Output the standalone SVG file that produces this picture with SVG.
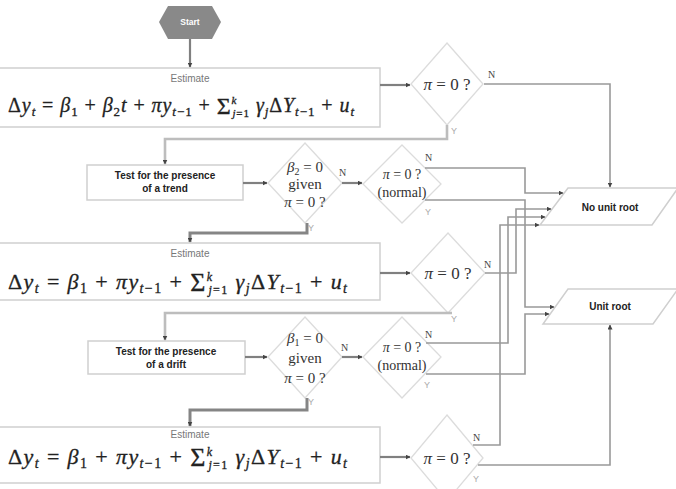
<svg xmlns="http://www.w3.org/2000/svg" width="676" height="489" viewBox="0 0 676 489">
<style>
.box{fill:#fff;stroke:#cfcfcf;stroke-width:1.5}
.dia{fill:#fff;stroke:#dcdcdc;stroke-width:1.3}
.est{font-family:"Liberation Sans",Arial,sans-serif;font-size:10px;fill:#777;text-anchor:middle}
.m{font-family:"Liberation Serif","DejaVu Serif",serif;fill:#222;stroke:#222;stroke-width:0.3}
.i{font-style:italic}
.q{font-family:"Liberation Serif","DejaVu Serif",serif;fill:#333;text-anchor:middle}
.bt{font-family:"Liberation Sans",Arial,sans-serif;font-weight:bold;font-size:10px;fill:#222;text-anchor:middle}
.lbN{font-family:"Liberation Serif",serif;font-size:10px;fill:#444}
.lbY{font-family:"Liberation Sans",sans-serif;font-size:9px;fill:#aaa}
.c{fill:none;stroke:#999;stroke-width:1.6}
.cd{fill:none;stroke:#808080;stroke-width:2.2}
.cl{fill:none;stroke:#bdbdbd;stroke-width:2.6}
.ct{fill:none;stroke:#858585;stroke-width:3}
</style>
<defs>
<marker id="ah" viewBox="0 0 10 10" refX="9" refY="5" markerWidth="5" markerHeight="5" markerUnits="userSpaceOnUse" orient="auto">
<path d="M0,0 L10,5 L0,10 z" fill="#444"/>
</marker>
</defs>

<g id="start">
<polygon points="159,22 168,6 212,6 221,22 212,39 168,39" fill="#898989"/>
<text x="190" y="25" font-family="Liberation Sans,Arial,sans-serif" font-size="8.5" font-weight="bold" fill="#fff" text-anchor="middle">Start</text>
</g>

<g id="estimate1">
<rect class="box" x="-2" y="68" width="382" height="59"/>
<text class="est" x="190" y="82">Estimate</text>
<text class="m" x="8" y="112" font-size="20" textLength="346" lengthAdjust="spacing">Δ<tspan class="i">y</tspan><tspan class="i" font-size="13" dy="4">t</tspan><tspan dy="-4"> = </tspan><tspan class="i">β</tspan><tspan font-size="13" dy="4">1</tspan><tspan dy="-4"> + </tspan><tspan class="i">β</tspan><tspan font-size="13" dy="4">2</tspan><tspan class="i" dy="-4">t</tspan> + <tspan class="i">πy</tspan><tspan class="i" font-size="13" dy="4">t</tspan><tspan font-size="13">−1</tspan><tspan dy="-4"> + </tspan><tspan font-size="24" dy="2">Σ</tspan><tspan class="i" font-size="11" dy="-10">k</tspan><tspan class="i" font-size="11" dx="-5" dy="13">j</tspan><tspan font-size="11">=1</tspan><tspan class="i" dy="-5"> γ</tspan><tspan class="i" font-size="13" dy="4">j</tspan><tspan dy="-4">Δ</tspan><tspan class="i">Y</tspan><tspan class="i" font-size="13" dy="4">t</tspan><tspan font-size="13">−1</tspan><tspan dy="-4"> + </tspan><tspan class="i">u</tspan><tspan class="i" font-size="13" dy="4">t</tspan></text>
</g>

<g id="d1">
<polygon class="dia" points="447,43 483,84 447,125 411,84"/>
<text class="q" x="447" y="90" font-size="17"><tspan class="i">π</tspan> = 0 ?</text>
</g>

<g id="trend">
<rect class="box" x="87" y="165" width="156" height="35"/>
<text class="bt" x="165" y="179">Test for the presence</text>
<text class="bt" x="165" y="192">of a trend</text>
</g>

<g id="d2">
<polygon class="dia" points="305,143 342,183 305,223 268,183"/>
<text class="q" x="305" y="172" font-size="15"><tspan class="i">β</tspan><tspan font-size="10" dy="3">2</tspan><tspan dy="-3"> = 0</tspan></text>
<text class="q" x="305" y="189" font-size="15">given</text>
<text class="q" x="305" y="207" font-size="15"><tspan class="i">π</tspan> = 0 ?</text>
</g>

<g id="d3">
<polygon class="dia" points="402,145 441,184 402,223 363,184"/>
<text class="q" x="402" y="179" font-size="14"><tspan class="i">π</tspan> = 0 ?</text>
<text class="q" x="402" y="197" font-size="14">(normal)</text>
</g>

<g id="nounit">
<polygon class="box" points="568,188 678,188 652,225 540,225"/>
<text class="bt" x="610" y="211" font-size="10.5">No unit root</text>
</g>

<g id="unit">
<polygon class="box" points="568,289 678,289 653,324 543,324"/>
<text class="bt" x="610" y="310" font-size="10.5">Unit root</text>
</g>

<g id="estimate2">
<rect class="box" x="-2" y="243" width="382" height="57"/>
<text class="est" x="190" y="257">Estimate</text>
<text class="m" x="8" y="289" font-size="22" textLength="339" lengthAdjust="spacing">Δ<tspan class="i">y</tspan><tspan class="i" font-size="14" dy="4">t</tspan><tspan dy="-4"> = </tspan><tspan class="i">β</tspan><tspan font-size="14" dy="4">1</tspan><tspan dy="-4"> + </tspan><tspan class="i">πy</tspan><tspan class="i" font-size="14" dy="4">t</tspan><tspan font-size="14">−1</tspan><tspan dy="-4"> + </tspan><tspan font-size="26" dy="2">Σ</tspan><tspan class="i" font-size="12" dy="-10">k</tspan><tspan class="i" font-size="12" dx="-5" dy="13">j</tspan><tspan font-size="12">=1</tspan><tspan class="i" dy="-5"> γ</tspan><tspan class="i" font-size="14" dy="4">j</tspan><tspan dy="-4">Δ</tspan><tspan class="i">Y</tspan><tspan class="i" font-size="14" dy="4">t</tspan><tspan font-size="14">−1</tspan><tspan dy="-4"> + </tspan><tspan class="i">u</tspan><tspan class="i" font-size="14" dy="4">t</tspan></text>
</g>

<g id="d4">
<polygon class="dia" points="448,233 485,273 448,313 411,273"/>
<text class="q" x="448" y="279" font-size="17"><tspan class="i">π</tspan> = 0 ?</text>
</g>

<g id="drift">
<rect class="box" x="88" y="341" width="157" height="33"/>
<text class="bt" x="166" y="355">Test for the presence</text>
<text class="bt" x="166" y="368">of a drift</text>
</g>

<g id="d5">
<polygon class="dia" points="305,317 342,357 305,398 268,357"/>
<text class="q" x="305" y="343" font-size="15"><tspan class="i">β</tspan><tspan font-size="10" dy="3">1</tspan><tspan dy="-3"> = 0</tspan></text>
<text class="q" x="305" y="363" font-size="15">given</text>
<text class="q" x="305" y="383" font-size="15"><tspan class="i">π</tspan> = 0 ?</text>
</g>

<g id="d6">
<polygon class="dia" points="402,317 441,357 402,398 363,357"/>
<text class="q" x="402" y="352" font-size="14"><tspan class="i">π</tspan> = 0 ?</text>
<text class="q" x="402" y="370" font-size="14">(normal)</text>
</g>

<g id="estimate3">
<rect class="box" x="-2" y="427" width="382" height="56"/>
<text class="est" x="190" y="438">Estimate</text>
<text class="m" x="8" y="464" font-size="22" textLength="339" lengthAdjust="spacing">Δ<tspan class="i">y</tspan><tspan class="i" font-size="14" dy="4">t</tspan><tspan dy="-4"> = </tspan><tspan class="i">β</tspan><tspan font-size="14" dy="4">1</tspan><tspan dy="-4"> + </tspan><tspan class="i">πy</tspan><tspan class="i" font-size="14" dy="4">t</tspan><tspan font-size="14">−1</tspan><tspan dy="-4"> + </tspan><tspan font-size="26" dy="2">Σ</tspan><tspan class="i" font-size="12" dy="-10">k</tspan><tspan class="i" font-size="12" dx="-5" dy="13">j</tspan><tspan font-size="12">=1</tspan><tspan class="i" dy="-5"> γ</tspan><tspan class="i" font-size="14" dy="4">j</tspan><tspan dy="-4">Δ</tspan><tspan class="i">Y</tspan><tspan class="i" font-size="14" dy="4">t</tspan><tspan font-size="14">−1</tspan><tspan dy="-4"> + </tspan><tspan class="i">u</tspan><tspan class="i" font-size="14" dy="4">t</tspan></text>
</g>

<g id="d7">
<polygon class="dia" points="447,415 483,458 447,501 411,458"/>
<text class="q" x="447" y="464" font-size="17"><tspan class="i">π</tspan> = 0 ?</text>
</g>

<g id="connectors">
<path class="cd" d="M190,39 V67" marker-end="url(#ah)"/>
<path class="cd" d="M380,85 H410" marker-end="url(#ah)"/>
<path class="c" d="M484,84 H610 V187" marker-end="url(#ah)"/>
<path class="cl" d="M447,125 V139 H165 V164" marker-end="url(#ah)"/>
<path class="cd" d="M243,183 H267" marker-end="url(#ah)"/>
<path class="cd" d="M342,183 H362" marker-end="url(#ah)"/>
<path class="c" d="M425,168 H525 V193 H563" marker-end="url(#ah)"/>
<path class="c" d="M425,200 H525 V307 H554" marker-end="url(#ah)"/>
<path class="ct" d="M307,223 V233 H190 V242" marker-end="url(#ah)"/>
<path class="cd" d="M380,273 H410" marker-end="url(#ah)"/>
<path class="c" d="M485,273 H516 V209 H551" marker-end="url(#ah)"/>
<path class="cl" d="M452,313 H165 V340" marker-end="url(#ah)"/>
<path class="cd" d="M245,357 H267" marker-end="url(#ah)"/>
<path class="cd" d="M342,357 H362" marker-end="url(#ah)"/>
<path class="c" d="M426,343 H508 V217 H545" marker-end="url(#ah)"/>
<path class="c" d="M426,374 H525 V314 H549" marker-end="url(#ah)"/>
<path class="ct" d="M307,398 V410 H190 V426" marker-end="url(#ah)"/>
<path class="cd" d="M380,457 H410" marker-end="url(#ah)"/>
<path class="c" d="M473,445 H500 V225 H539" marker-end="url(#ah)"/>
<path class="c" d="M478,465 H610 V325" marker-end="url(#ah)"/>
</g>

<g id="labels">
<text class="lbN" x="488" y="78">N</text>
<text class="lbY" x="451" y="134">Y</text>
<text class="lbN" x="339" y="176">N</text>
<text class="lbY" x="308" y="231">Y</text>
<text class="lbN" x="425" y="161">N</text>
<text class="lbY" x="425" y="215">Y</text>
<text class="lbN" x="484" y="268">N</text>
<text class="lbY" x="451" y="322">Y</text>
<text class="lbN" x="341" y="351">N</text>
<text class="lbY" x="308" y="405">Y</text>
<text class="lbN" x="425" y="338">N</text>
<text class="lbY" x="424" y="388">Y</text>
<text class="lbN" x="473" y="441">N</text>
<text class="lbY" x="473" y="482">Y</text>
</g>
</svg>
